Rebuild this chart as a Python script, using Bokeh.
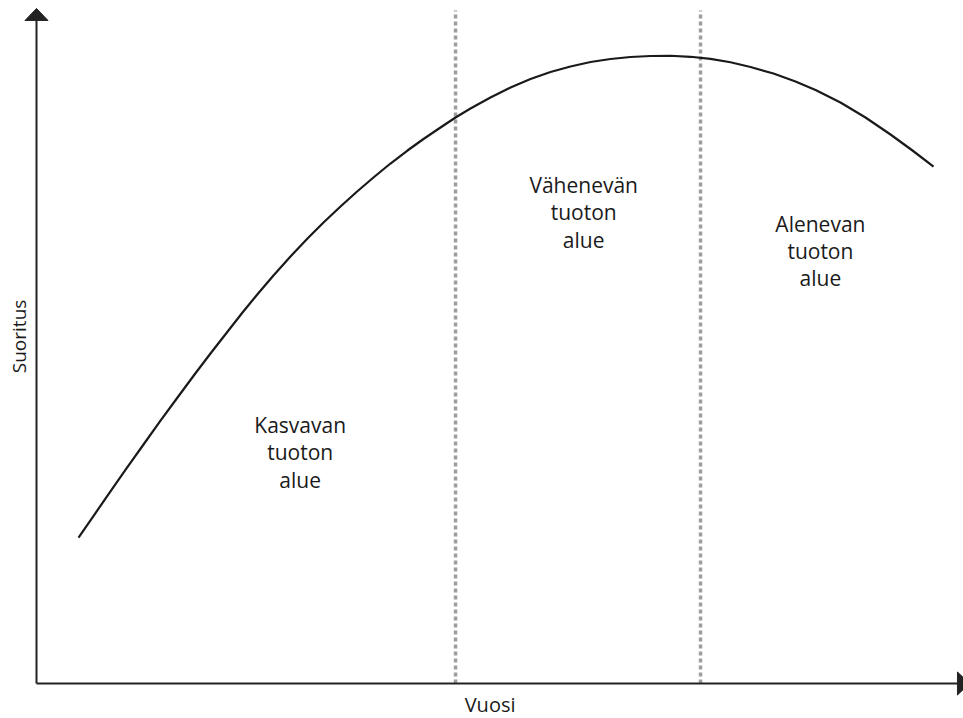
import math
from bokeh.plotting import figure
from bokeh.models import Range1d
from bokeh.core.properties import value
from bokeh.embed import file_html
from bokeh.resources import INLINE

# ---- data (arbitrary units: year 0..100, performance 0..100) ----
curve_x = [4.67, 6.44, 8.22, 10.0, 11.89, 13.78, 15.67, 17.56, 19.33, 21.11,
           22.89, 24.67, 26.33, 28.22, 30.11, 31.89, 33.78, 35.56, 37.44, 39.33,
           41.22, 43.0, 44.89, 46.56, 48.22, 50.44, 52.67, 54.89, 57.11, 59.33,
           61.56, 63.78, 66.0, 68.22, 70.44, 72.67, 74.89, 77.11, 79.33, 81.89,
           84.33, 86.56, 89.33, 92.11, 94.89, 97.33, 99.67]
curve_y = [21.79, 25.22, 28.66, 32.09, 35.67, 39.25, 42.69, 46.12, 49.25, 52.31,
           55.37, 58.28, 60.90, 63.73, 66.42, 68.81, 71.19, 73.36, 75.52, 77.61,
           79.55, 81.27, 82.99, 84.48, 85.82, 87.46, 88.96, 90.22, 91.27, 92.09,
           92.76, 93.21, 93.51, 93.66, 93.69, 93.54, 93.22, 92.72, 92.01, 91.04,
           89.85, 88.58, 86.72, 84.48, 81.94, 79.55, 77.16]

boundary_x = [46.56, 73.78]          # dashed zone borders
boundary_top = 100.45

zone_x = [29.3, 60.8, 87.1]
zone_y = [34.5, 70.3, 64.6]
zone_labels = ["Kasvavan\ntuoton\nalue", "Vähenevän\ntuoton\nalue", "Alenevan\ntuoton\nalue"]

x_label = "Vuosi"
y_label = "Suoritus"

# axis extents
Y_AXIS_END = 98.96
Y_TIP = 100.75
X_AXIS_END = 102.33
X_TIP = 103.67

FONT = value("Open Sans")

p = figure(width=963, height=718, output_backend="svg", toolbar_location=None,
           x_range=Range1d(-4.0, 103.0), y_range=Range1d(-5.224, 101.94),
           x_axis_type=None, y_axis_type=None, min_border=0)
p.grid.visible = False
p.outline_line_color = None
p.background_fill_color = "white"

AX = "#222222"

# dashed zone boundaries
for bx in boundary_x:
    p.line([bx, bx], [0, boundary_top], line_color="#9e9e9e", line_width=3.5,
           line_dash="4 3")

# axes
p.line([0, 0], [0, Y_AXIS_END], line_color=AX, line_width=2)
p.line([0, X_AXIS_END], [0, 0], line_color=AX, line_width=2)
# arrow heads (half widths converted from 11.5 px)
hw_x = 11.5 / 9.0
hw_y = 11.5 / 6.7
p.patch([-hw_x, hw_x, 0], [Y_AXIS_END, Y_AXIS_END, Y_TIP], color=AX, line_width=1)
p.patch([X_AXIS_END, X_AXIS_END, X_TIP], [-hw_y, hw_y, 0], color=AX, line_width=1)

# curve
p.line(curve_x, curve_y, line_color="#1a1a1a", line_width=2.2, line_join="round")

# zone labels
p.text(x=zone_x, y=zone_y, text=zone_labels, text_font=FONT,
       text_font_size="21px", text_align="center", text_baseline="middle",
       text_line_height=0.97, text_color="#1a1a1a")

# axis titles
p.text(x=[50.4], y=[-3.2], text=[x_label], text_font=FONT, text_font_size="20px",
       text_align="center", text_baseline="middle", text_color="#1a1a1a")
p.text(x=[-1.9], y=[51.8], text=[y_label], text_font=FONT, text_font_size="19px",
       text_align="center", text_baseline="middle", angle=math.pi / 2,
       text_color="#1a1a1a")

open("out.html", "w").write(file_html(p, INLINE))
